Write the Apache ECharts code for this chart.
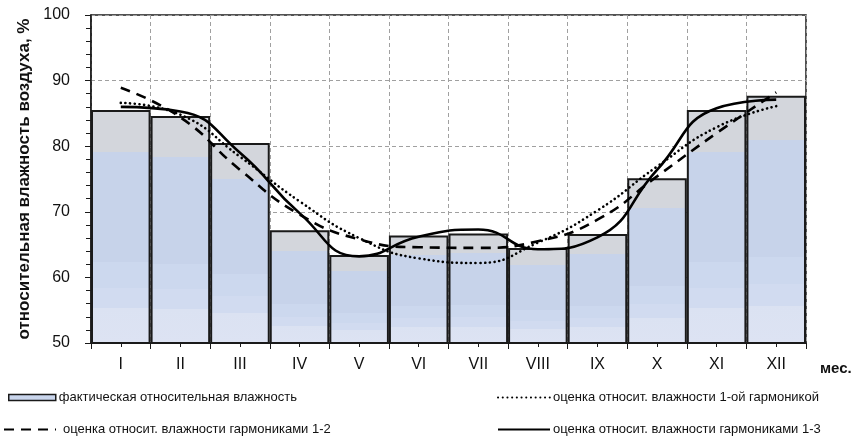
<!DOCTYPE html>
<html>
<head>
<meta charset="utf-8">
<script src="https://cdn.jsdelivr.net/npm/echarts@6/dist/echarts.min.js"></script>
<style>
  html, body { margin: 0; padding: 0; background: #fff; }
  #chart { width: 867px; height: 443px; }
</style>
</head>
<body>
<div id="chart"></div>
<script>
// Months (Roman numerals)
const months = ['I', 'II', 'III', 'IV', 'V', 'VI', 'VII', 'VIII', 'IX', 'X', 'XI', 'XII'];

// Actual monthly relative humidity, %
const actualHumidity = [85.5, 84.6, 80.5, 67.2, 63.4, 66.4, 66.7, 64.5, 66.6, 75.1, 85.5, 87.7];

// Estimates by harmonic approximation, %
const harmonic1 = [86.6, 84.8, 78.4, 71.6, 66.0, 62.9, 62.2, 65.3, 70.2, 76.9, 82.9, 86.1];
const harmonic12 = [88.9, 84.4, 76.4, 69.6, 65.8, 64.6, 64.5, 65.5, 68.8, 75.4, 82.0, 88.2];
const harmonic13 = [86.0, 85.3, 79.0, 69.8, 63.2, 66.2, 67.3, 64.3, 66.1, 76.4, 85.8, 87.1];

// Axis settings
const yMin = 50, yMax = 100, yStep = 10;

const names = {
  actual: 'фактическая относительная влажность',
  h1: 'оценка относит. влажности 1-ой гармоникой',
  h12: 'оценка относит. влажности гармониками 1-2',
  h13: 'оценка относит. влажности гармониками 1-3'
};

const FONT = '"Liberation Sans", Arial, sans-serif';

// Banded fill of the monthly bars: grey cap, then bluish bands getting lighter downwards
const barFill = new echarts.graphic.LinearGradient(0, 0, 0, 1, [
  { offset: 0.00, color: '#d3d6dc' },
  { offset: 0.18, color: '#d3d6dc' },
  { offset: 0.18, color: '#c7d3ea' },
  { offset: 0.65, color: '#c7d3ea' },
  { offset: 0.65, color: '#ccd8ee' },
  { offset: 0.76, color: '#ccd8ee' },
  { offset: 0.76, color: '#d1dbf0' },
  { offset: 0.845, color: '#d1dbf0' },
  { offset: 0.845, color: '#dbe2f2' },
  { offset: 1.00, color: '#dde3f3' }
]);

const chart = echarts.init(document.getElementById('chart'), null, { renderer: 'canvas' });

// One legend block per entry so each can sit in its own spot
function legendBox(left, top, item, textPad) {
  return {
    left: left, top: top, orient: 'horizontal',
    itemWidth: 52, itemHeight: 8, itemGap: 0, padding: 0,
    textStyle: { fontFamily: FONT, fontSize: 13, color: '#111', padding: [0, 0, 0, textPad] },
    selectedMode: false,
    data: [item]
  };
}

// Line entries: draw only the line sample, no marker dot
const noMarker = { color: 'transparent', borderWidth: 0, opacity: 0 };

chart.setOption({
  animation: false,
  backgroundColor: '#fff',
  textStyle: { fontFamily: FONT },
  grid: {
    left: 91, right: 61, top: 15, bottom: 100,
    show: true, borderColor: '#1a1a1a', borderWidth: 1.5, backgroundColor: 'transparent'
  },
  legend: [
    Object.assign(legendBox(8, 391, {
      name: names.actual, icon: 'rect',
      itemStyle: { color: '#c9d5ec', borderColor: '#1a1a1a', borderWidth: 1.5 }
    }, -2), { itemWidth: 47, itemHeight: 6 }),
    legendBox(497, 391, { name: names.h1, itemStyle: noMarker }, -2),
    legendBox(3, 423, { name: names.h12, itemStyle: noMarker }, 2),
    legendBox(497, 423, { name: names.h13, itemStyle: noMarker }, -2)
  ],
  xAxis: [
    {
      type: 'category',
      data: months,
      boundaryGap: true,
      axisLine: { show: true, lineStyle: { color: '#1a1a1a', width: 1.5 } },
      axisTick: { show: true, length: 6, interval: 0, lineStyle: { color: '#1a1a1a', width: 1 } },
      axisLabel: { interval: 0, margin: 14, fontSize: 16, color: '#111', fontFamily: FONT },
      splitLine: { show: true, interval: 0, lineStyle: { color: '#a0a0a0', width: 1, type: [4, 3] } },
      name: 'мес.',
      nameLocation: 'end',
      nameGap: 14,
      nameTextStyle: { fontFamily: FONT, fontSize: 15, fontWeight: 'bold', color: '#111', verticalAlign: 'top', padding: [18, 0, 0, 0] }
    },
    {
      type: 'category',
      data: months,
      position: 'bottom',
      gridIndex: 0,
      axisLine: { show: false },
      axisTick: { show: true, alignWithLabel: true, length: 4, lineStyle: { color: '#1a1a1a', width: 1 } },
      axisLabel: { show: false },
      splitLine: { show: false }
    }
  ],
  yAxis: {
    type: 'value',
    min: yMin, max: yMax, interval: yStep,
    axisLine: { show: true, lineStyle: { color: '#1a1a1a', width: 1.5 } },
    axisTick: { show: true, length: 6, lineStyle: { color: '#1a1a1a', width: 1 } },
    minorTick: { show: true, splitNumber: 5, length: 5, lineStyle: { color: '#1a1a1a', width: 1 } },
    axisLabel: { fontSize: 16, color: '#111', margin: 21, fontFamily: FONT },
    splitLine: { show: true, lineStyle: { color: '#a0a0a0', width: 1, type: [4, 3] } },
    name: 'относительная влажность воздуха, %',
    nameLocation: 'middle',
    nameGap: 58,
    nameTextStyle: { fontFamily: FONT, fontSize: 17, fontWeight: 'bold', color: '#111' }
  },
  series: [
    {
      name: names.actual,
      type: 'bar',
      xAxisIndex: 0,
      data: actualHumidity,
      barCategoryGap: 0,
      itemStyle: { color: barFill, borderColor: '#1a1a1a', borderWidth: 2 },
      z: 1
    },
    {
      name: names.h1,
      type: 'line',
      xAxisIndex: 0,
      data: harmonic1,
      smooth: true,
      symbol: 'none',
      lineStyle: { color: '#000', width: 2.6, type: [0.1, 4.6], cap: 'round' },
      itemStyle: { color: '#000' },
      z: 3
    },
    {
      name: names.h12,
      type: 'line',
      xAxisIndex: 0,
      data: harmonic12,
      smooth: true,
      symbol: 'none',
      lineStyle: { color: '#000', width: 2.6, type: [10, 7] },
      itemStyle: { color: '#000' },
      z: 3
    },
    {
      name: names.h13,
      type: 'line',
      xAxisIndex: 0,
      data: harmonic13,
      smooth: true,
      symbol: 'none',
      lineStyle: { color: '#000', width: 2.6 },
      itemStyle: { color: '#000' },
      z: 4
    }
  ]
});
</script>
</body>
</html>
